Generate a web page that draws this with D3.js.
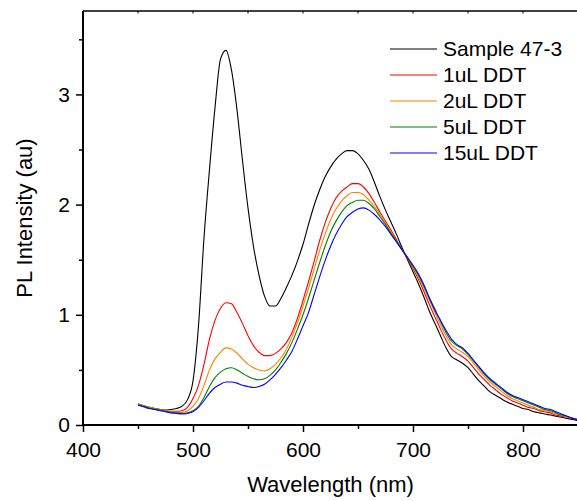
<!DOCTYPE html>
<html>
<head>
<meta charset="utf-8">
<script src="https://cdn.jsdelivr.net/npm/d3@7"></script>
<style>
  body { margin: 0; background: #fff; }
  text { font-family: Arial, "Liberation Sans", sans-serif; fill: #000; }
</style>
</head>
<body>
<div id="chart"></div>
<script>
// wavelength grid (nm)
var wavelength = [450,455,460,465,470,475,480,485,490,495,500,505,510,515,520,525,530,535,540,545,
  550,555,560,565,570,575,580,585,590,595,600,605,610,615,620,625,630,635,640,645,
  650,655,660,665,670,675,680,685,690,695,700,705,710,715,720,725,730,735,740,745,
  750,755,760,765,770,775,780,785,790,795,800,805,810,815,820,825,830,835,840,845,850];

var sample473 = [0.19,0.175,0.16,0.15,0.14,0.135,0.14,0.15,0.17,0.23,0.40,0.90,1.70,2.32,2.88,3.32,3.40,3.22,2.86,2.40,
  1.97,1.62,1.36,1.17,1.08,1.08,1.15,1.25,1.36,1.49,1.64,1.82,1.99,2.13,2.25,2.34,2.41,2.46,2.49,2.49,
  2.46,2.40,2.32,2.20,2.07,1.95,1.84,1.73,1.61,1.50,1.39,1.28,1.16,1.03,0.92,0.81,0.70,0.62,0.59,0.56,
  0.52,0.46,0.40,0.35,0.30,0.27,0.24,0.21,0.19,0.17,0.15,0.14,0.12,0.11,0.10,0.09,0.08,0.07,0.06,0.05,0.04];

var ddt1 = [0.19,0.175,0.16,0.15,0.14,0.13,0.125,0.125,0.13,0.16,0.24,0.36,0.55,0.78,0.95,1.06,1.11,1.10,1.02,0.92,
  0.81,0.72,0.66,0.63,0.63,0.65,0.69,0.75,0.84,0.97,1.13,1.30,1.48,1.67,1.83,1.96,2.06,2.12,2.16,2.19,
  2.19,2.16,2.10,2.02,1.93,1.85,1.77,1.68,1.59,1.51,1.42,1.32,1.21,1.09,0.98,0.87,0.77,0.69,0.65,0.62,
  0.58,0.52,0.46,0.41,0.36,0.32,0.28,0.25,0.22,0.20,0.18,0.16,0.15,0.13,0.12,0.11,0.09,0.08,0.07,0.06,0.05];

var ddt2 = [0.19,0.175,0.16,0.15,0.14,0.13,0.12,0.115,0.115,0.13,0.17,0.24,0.36,0.50,0.60,0.66,0.70,0.69,0.65,0.60,
  0.55,0.52,0.50,0.49,0.51,0.55,0.61,0.69,0.80,0.93,1.08,1.24,1.41,1.58,1.73,1.86,1.96,2.03,2.08,2.11,
  2.11,2.09,2.04,1.98,1.91,1.83,1.75,1.67,1.59,1.52,1.43,1.34,1.24,1.13,1.02,0.91,0.81,0.73,0.69,0.66,
  0.62,0.56,0.50,0.44,0.39,0.35,0.31,0.27,0.24,0.22,0.20,0.18,0.16,0.14,0.13,0.12,0.10,0.09,0.07,0.06,0.05];

var ddt5 = [0.185,0.17,0.155,0.145,0.135,0.125,0.115,0.11,0.105,0.11,0.13,0.17,0.25,0.35,0.43,0.48,0.51,0.52,0.50,0.47,
  0.44,0.42,0.41,0.42,0.45,0.50,0.57,0.65,0.75,0.87,1.00,1.15,1.31,1.47,1.62,1.75,1.85,1.93,1.99,2.02,
  2.04,2.04,2.01,1.96,1.89,1.82,1.74,1.67,1.59,1.52,1.44,1.36,1.26,1.15,1.05,0.94,0.84,0.76,0.72,0.69,
  0.64,0.58,0.52,0.46,0.41,0.37,0.33,0.29,0.26,0.24,0.22,0.20,0.18,0.16,0.14,0.13,0.11,0.09,0.08,0.06,0.05];

var ddt15 = [0.18,0.165,0.15,0.14,0.13,0.12,0.11,0.105,0.10,0.105,0.12,0.16,0.22,0.29,0.34,0.37,0.39,0.39,0.38,0.36,
  0.35,0.34,0.35,0.37,0.41,0.46,0.52,0.59,0.67,0.78,0.90,1.02,1.18,1.34,1.49,1.62,1.73,1.82,1.89,1.93,
  1.96,1.97,1.95,1.91,1.86,1.80,1.73,1.66,1.59,1.52,1.45,1.37,1.27,1.15,1.04,0.95,0.86,0.78,0.73,0.70,
  0.65,0.59,0.53,0.47,0.42,0.38,0.34,0.30,0.27,0.25,0.23,0.21,0.19,0.17,0.15,0.14,0.12,0.10,0.08,0.06,0.045];

var seriesNames = ["Sample 47-3", "1uL DDT", "2uL DDT", "5uL DDT", "15uL DDT"];
var seriesValues = [sample473, ddt1, ddt2, ddt5, ddt15];
var colors = ["#000000", "#ff0000", "#ff8000", "#008000", "#0000ff"];

var xTicks = [400, 500, 600, 700, 800];
var yTicks = [0, 1, 2, 3];

var margin = {top: 11, right: 0, bottom: 76, left: 83},
    width = 495,
    height = 414;

var svg = d3.select("#chart")
  .append("svg")
    .attr("width", 577)
    .attr("height", 501);

var g = svg.append("g")
  .attr("transform", "translate(" + margin.left + "," + margin.top + ")");

var x = d3.scaleLinear().domain([400, 850]).range([0, width]);
var y = d3.scaleLinear().domain([0, 3.757]).range([height, 0]);

var line = d3.line()
  .curve(d3.curveMonotoneX)
  .x(function(d) { return x(d[0]); })
  .y(function(d) { return y(d[1]); });

// spectra
seriesValues.forEach(function(vals, i) {
  g.append("path")
    .datum(wavelength.map(function(w, j) { return [w, vals[j]]; }))
    .attr("fill", "none")
    .attr("stroke", colors[i])
    .attr("stroke-width", 1.1)
    .attr("d", line);
});

// top border with small inner ticks
g.append("line")
  .attr("x1", 0).attr("x2", width).attr("y1", 0).attr("y2", 0)
  .attr("stroke", "#000").attr("stroke-width", 1.5);
g.selectAll(".toptick")
  .data(d3.range(450, 851, 50))
  .enter().append("line")
    .attr("x1", function(d) { return x(d); })
    .attr("x2", function(d) { return x(d); })
    .attr("y1", 0).attr("y2", 2.5)
    .attr("stroke", "#000");

// x axis: minor ticks then major ticks with labels
var xAxisG = g.append("g").attr("transform", "translate(0," + height + ")");
xAxisG.call(d3.axisBottom(x).tickValues(d3.range(450, 851, 100)).tickSize(4).tickFormat(""));
xAxisG.append("g").call(d3.axisBottom(x).tickValues(xTicks).tickSize(7).tickPadding(10)
  .tickFormat(d3.format("d")));

// y axis
var yAxisG = g.append("g");
yAxisG.call(d3.axisLeft(y).tickValues([0.5, 1.5, 2.5, 3.5]).tickSize(4).tickFormat(""));
yAxisG.append("g").call(d3.axisLeft(y).tickValues(yTicks).tickSize(7).tickPadding(6)
  .tickFormat(d3.format("d")));

g.selectAll(".domain").attr("stroke-width", 1.8);
g.selectAll(".tick line").attr("stroke-width", 1.5);
g.selectAll(".tick text")
  .style("font-family", "Arial, 'Liberation Sans', sans-serif")
  .style("font-size", "21px");
yAxisG.selectAll(".domain").attr("d", "M0," + height + "V0");
xAxisG.selectAll(".domain").attr("d", "M0,0H" + width);

// axis titles
svg.append("text")
  .attr("x", margin.left + width / 2)
  .attr("y", 492)
  .attr("text-anchor", "middle")
  .style("font-size", "22px")
  .text("Wavelength (nm)");

svg.append("text")
  .attr("transform", "translate(32," + (margin.top + height / 2) + ") rotate(-90)")
  .attr("text-anchor", "middle")
  .style("font-size", "22px")
  .text("PL Intensity (au)");

// legend
var legend = svg.selectAll(".legend")
  .data(seriesNames)
  .enter().append("g")
    .attr("class", "legend")
    .attr("transform", function(d, i) { return "translate(390," + (49 + i * 26) + ")"; });

legend.append("line")
  .attr("x1", 0).attr("x2", 47)
  .attr("stroke", function(d, i) { return colors[i]; })
  .attr("stroke-width", 1.2);

legend.append("text")
  .attr("x", 53)
  .attr("y", 7)
  .style("font-size", "21px")
  .text(function(d) { return d; });
</script>
</body>
</html>
